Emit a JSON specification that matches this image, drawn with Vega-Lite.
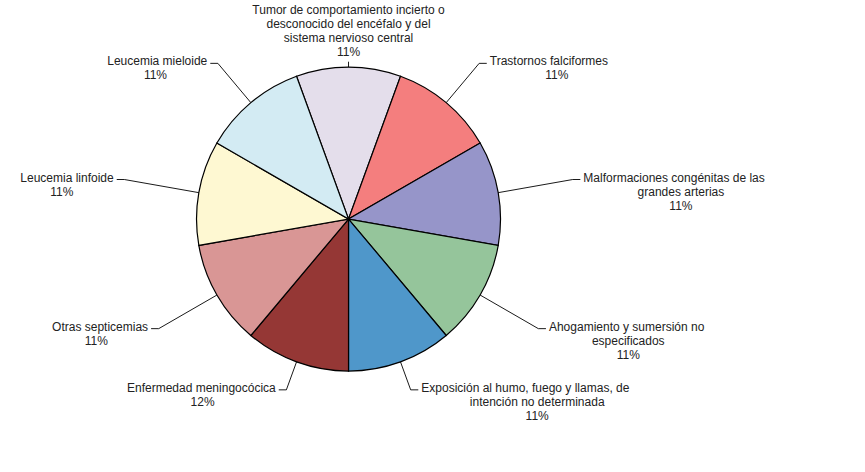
{
  "$schema": "https://vega.github.io/schema/vega-lite/v6.json",
  "width": 865,
  "height": 472,
  "autosize": {"type": "fit", "contains": "padding"},
  "padding": 0,
  "background": "white",
  "config": {"view": {"stroke": null}, "font": "Liberation Sans"},
  "data": {
    "values": [
      {"orden": 1, "categoria": "Tumor de comportamiento incierto o desconocido del encéfalo y del sistema nervioso central", "etiqueta": "Tumor de comportamiento incierto o\ndesconocido del encéfalo y del\nsistema nervioso central", "valor": 1, "porcentaje": "11%"},
      {"orden": 2, "categoria": "Trastornos falciformes", "etiqueta": "Trastornos falciformes", "valor": 1, "porcentaje": "11%"},
      {"orden": 3, "categoria": "Malformaciones congénitas de las grandes arterias", "etiqueta": "Malformaciones congénitas de las\ngrandes arterias", "valor": 1, "porcentaje": "11%"},
      {"orden": 4, "categoria": "Ahogamiento y sumersión no especificados", "etiqueta": "Ahogamiento y sumersión no\nespecificados", "valor": 1, "porcentaje": "11%"},
      {"orden": 5, "categoria": "Exposición al humo, fuego y llamas, de intención no determinada", "etiqueta": "Exposición al humo, fuego y llamas, de\nintención no determinada", "valor": 1, "porcentaje": "11%"},
      {"orden": 6, "categoria": "Enfermedad meningocócica", "etiqueta": "Enfermedad meningocócica", "valor": 1, "porcentaje": "12%"},
      {"orden": 7, "categoria": "Otras septicemias", "etiqueta": "Otras septicemias", "valor": 1, "porcentaje": "11%"},
      {"orden": 8, "categoria": "Leucemia linfoide", "etiqueta": "Leucemia linfoide", "valor": 1, "porcentaje": "11%"},
      {"orden": 9, "categoria": "Leucemia mieloide", "etiqueta": "Leucemia mieloide", "valor": 1, "porcentaje": "11%"}
    ]
  },
  "transform": [
    {"stack": "valor", "groupby": [], "sort": [{"field": "orden", "order": "ascending"}], "as": ["v0", "v1"]},
    {"joinaggregate": [{"op": "sum", "field": "valor", "as": "total"}]},
    {"calculate": "-PI/9 + PI*(datum.v0 + datum.v1)/datum.total", "as": "ang"},
    {"calculate": "sin(datum.ang)", "as": "ux"},
    {"calculate": "cos(datum.ang)", "as": "uy"},
    {"calculate": "1.035 + 0.47*abs(datum.ux)", "as": "k"},
    {"calculate": "datum.ux*datum.k", "as": "ex"},
    {"calculate": "datum.uy*datum.k", "as": "ey"},
    {"calculate": "abs(datum.ux) > 0.2 ? (datum.ux > 0 ? 1 : -1) : 0", "as": "lado"},
    {"calculate": "datum.ex + datum.lado*0.05", "as": "tx"},
    {"calculate": "indexof(datum.etiqueta, '\\n')", "as": "corte"},
    {"calculate": "datum.corte >= 0 ? substring(datum.etiqueta, 0, datum.corte) : datum.etiqueta", "as": "linea1"},
    {"calculate": "(datum.corte >= 0 ? substring(datum.etiqueta, datum.corte + 1) + '\\n' : '') + datum.porcentaje", "as": "resto"},
    {"calculate": "datum.tx + datum.lado*(3 + length(datum.linea1)*6.1/2)/152", "as": "cx"},
    {"calculate": "datum.etiqueta + '\\n' + datum.porcentaje", "as": "texto"},
    {"calculate": "length(split(datum.texto, '\\n'))", "as": "nlin"},
    {"calculate": "datum.ey + (datum.nlin*14 + 1)/152", "as": "ytop"}
  ],
  "layer": [
    {
      "mark": {"type": "arc", "outerRadius": 152, "stroke": "#000000", "strokeWidth": 1.2},
      "encoding": {
        "x": {"datum": 0, "type": "quantitative", "scale": {"domain": [-2.293, 3.398], "nice": false, "zero": false}, "axis": null},
        "y": {"datum": 0, "type": "quantitative", "scale": {"domain": [-1.664, 1.441], "nice": false, "zero": false}, "axis": null},
        "theta": {"field": "valor", "type": "quantitative", "stack": true, "scale": {"range": [-0.349066, 5.934119]}},
        "order": {"field": "orden", "type": "quantitative"},
        "color": {
          "field": "orden",
          "type": "ordinal",
          "scale": {"range": ["#E4DEEB", "#F47E7E", "#9695C9", "#95C59B", "#4F97CA", "#953735", "#D99695", "#FEF8D2", "#D3EBF3"]},
          "legend": null
        }
      }
    },
    {
      "mark": {"type": "rule", "color": "#000000", "strokeWidth": 0.9},
      "encoding": {
        "x": {"field": "ux", "type": "quantitative"},
        "y": {"field": "uy", "type": "quantitative"},
        "x2": {"field": "ex"},
        "y2": {"field": "ey"}
      }
    },
    {
      "mark": {"type": "rule", "color": "#000000", "strokeWidth": 0.9},
      "encoding": {
        "x": {"field": "ex", "type": "quantitative"},
        "y": {"field": "ey", "type": "quantitative"},
        "x2": {"field": "tx"},
        "y2": {"field": "ey"}
      }
    },
    {
      "transform": [{"filter": "datum.lado > 0"}],
      "mark": {"type": "text", "align": "left", "baseline": "top", "dx": 3, "dy": -7, "fontSize": 12, "color": "#222222", "font": "Liberation Sans"},
      "encoding": {
        "x": {"field": "tx", "type": "quantitative"},
        "y": {"field": "ey", "type": "quantitative"},
        "text": {"field": "linea1"}
      }
    },
    {
      "transform": [{"filter": "datum.lado < 0"}],
      "mark": {"type": "text", "align": "right", "baseline": "top", "dx": -3, "dy": -7, "fontSize": 12, "color": "#222222", "font": "Liberation Sans"},
      "encoding": {
        "x": {"field": "tx", "type": "quantitative"},
        "y": {"field": "ey", "type": "quantitative"},
        "text": {"field": "linea1"}
      }
    },
    {
      "transform": [{"filter": "datum.lado != 0"}],
      "mark": {"type": "text", "align": "center", "baseline": "top", "dy": 7, "fontSize": 12, "lineHeight": 14, "lineBreak": "\n", "color": "#222222", "font": "Liberation Sans"},
      "encoding": {
        "x": {"field": "cx", "type": "quantitative"},
        "y": {"field": "ey", "type": "quantitative"},
        "text": {"field": "resto"}
      }
    },
    {
      "transform": [{"filter": "datum.lado == 0"}],
      "mark": {"type": "text", "align": "center", "baseline": "top", "fontSize": 12, "lineHeight": 14, "lineBreak": "\n", "color": "#222222", "font": "Liberation Sans"},
      "encoding": {
        "x": {"field": "tx", "type": "quantitative"},
        "y": {"field": "ytop", "type": "quantitative"},
        "text": {"field": "texto"}
      }
    }
  ]
}
